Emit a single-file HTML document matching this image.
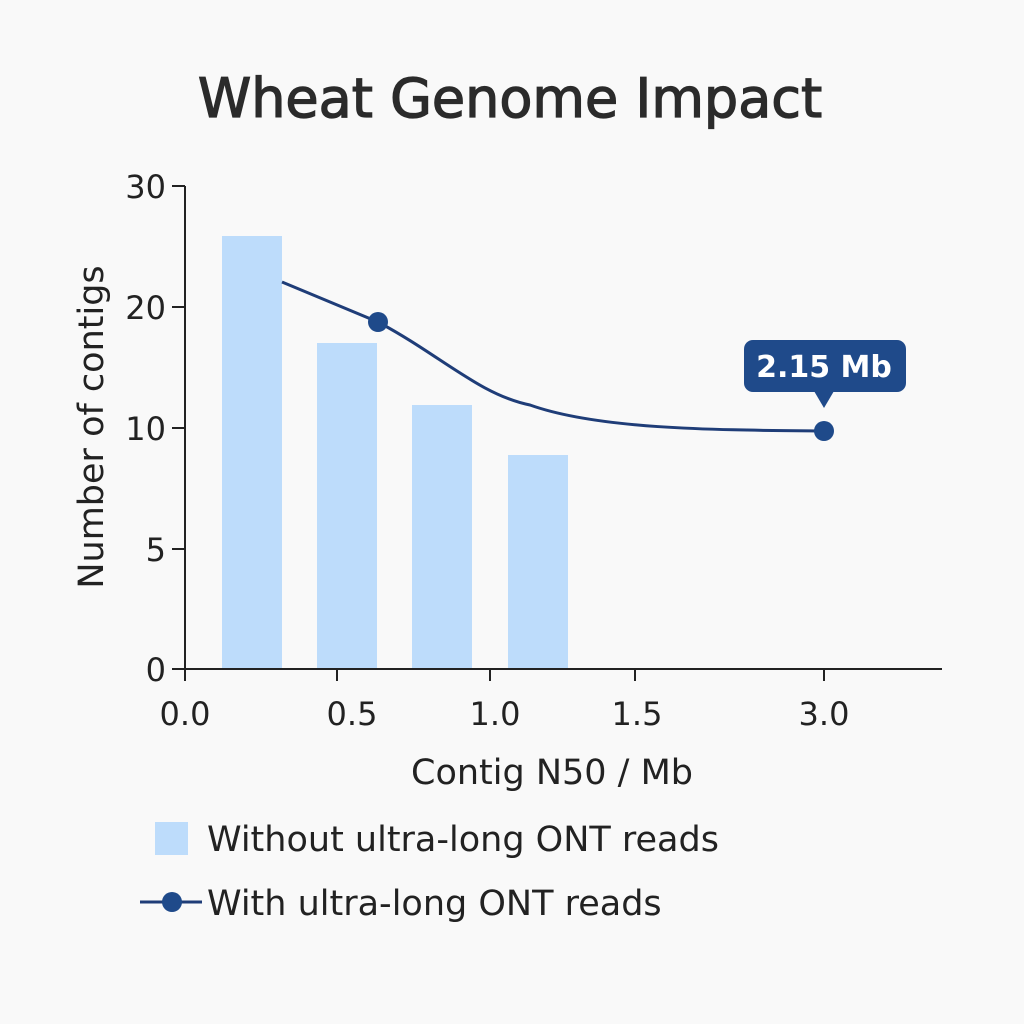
<!DOCTYPE html>
<html><head><style>
html,body{margin:0;padding:0;background:#f9f9f9;}
svg{display:block;font-family:"DejaVu Sans","Liberation Sans",sans-serif;}
</style></head><body>
<svg width="1024" height="1024" viewBox="0 0 1024 1024">
<rect width="1024" height="1024" fill="#f9f9f9"/>
<text x="510" y="117" text-anchor="middle" font-size="54" fill="#2b2b2b" stroke="#2b2b2b" stroke-width="1.3">Wheat Genome Impact</text>
<g fill="#bddcfb">
<rect x="222" y="236" width="60" height="433"/>
<rect x="317" y="343" width="60" height="326"/>
<rect x="412" y="405" width="60" height="264"/>
<rect x="508" y="455" width="60" height="214"/>
</g>
<g stroke="#222" stroke-width="2" fill="none">
<line x1="185" y1="186" x2="185" y2="670"/>
<line x1="185" y1="669" x2="942" y2="669"/>
<line x1="172" y1="186" x2="185" y2="186"/>
<line x1="172" y1="307" x2="185" y2="307"/>
<line x1="172" y1="428" x2="185" y2="428"/>
<line x1="172" y1="549" x2="185" y2="549"/>
<line x1="172" y1="669" x2="185" y2="669"/>
<line x1="185" y1="669" x2="185" y2="681"/>
<line x1="337" y1="669" x2="337" y2="681"/>
<line x1="490" y1="669" x2="490" y2="681"/>
<line x1="635" y1="669" x2="635" y2="681"/>
<line x1="824" y1="669" x2="824" y2="681"/>
</g>
<g font-size="32" fill="#222" text-anchor="end">
<text x="166" y="198">30</text><text x="166" y="319">20</text><text x="166" y="440">10</text><text x="166" y="561">5</text><text x="166" y="681">0</text>
</g>
<g font-size="32" fill="#222" text-anchor="middle">
<text x="185" y="725">0.0</text><text x="352" y="725">0.5</text><text x="495" y="725">1.0</text><text x="637" y="725">1.5</text><text x="824" y="725">3.0</text>
</g>
<text x="552" y="784" text-anchor="middle" font-size="35" fill="#222">Contig N50 / Mb</text>
<text transform="translate(103,427) rotate(-90)" text-anchor="middle" font-size="35" fill="#222">Number of contigs</text>
<path d="M282 282 L378 322 C440 355 480 395 530 405 C600 430 720 430 824 431" stroke="#1f3d78" stroke-width="3" fill="none"/>
<circle cx="378" cy="322" r="10" fill="#1f4a8a"/>
<circle cx="824" cy="431" r="10" fill="#1f4a8a"/>
<rect x="744" y="340" width="162" height="52" rx="9" fill="#1f4a8a"/>
<polygon points="814,391 834,391 824,408" fill="#1f4a8a"/>
<text x="824" y="377" text-anchor="middle" font-size="30" font-weight="bold" fill="#fff">2.15 Mb</text>
<rect x="155" y="822" width="33" height="33" fill="#bddcfb"/>
<text x="207" y="851" font-size="35" fill="#222">Without ultra-long ONT reads</text>
<line x1="140" y1="902" x2="202" y2="902" stroke="#1f3d78" stroke-width="3"/>
<circle cx="172" cy="902" r="10" fill="#1f4a8a"/>
<text x="207" y="915" font-size="35" fill="#222">With ultra-long ONT reads</text>
</svg>
</body></html>
